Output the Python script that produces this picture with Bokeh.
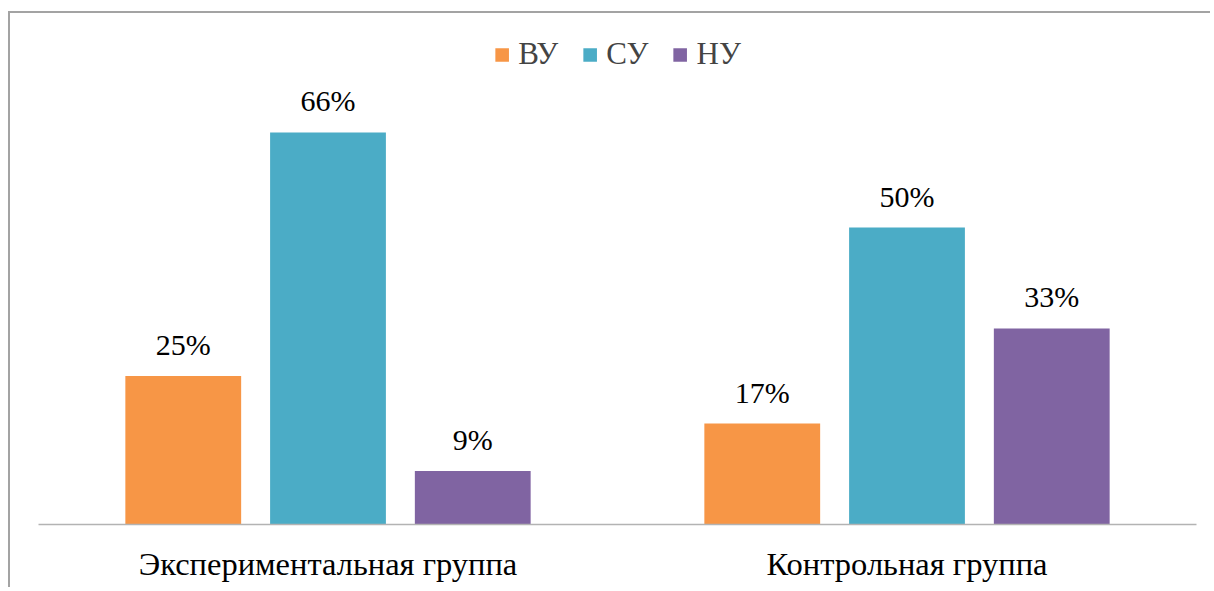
from bokeh.plotting import figure
from bokeh.models import ColumnDataSource, FactorRange, Range1d, Legend, LegendItem
from bokeh.core.properties import value
from bokeh.transform import dodge
from bokeh.embed import file_html
from bokeh.resources import INLINE

groups = ["Экспериментальная группа", "Контрольная группа"]
series = ["ВУ", "СУ", "НУ"]
vu = [25, 17]
su = [66, 50]
nu = [9, 33]
colors = ["#F79646", "#4BACC6", "#8064A2"]
offsets = [-0.25, 0.0, 0.25]

src = ColumnDataSource(dict(
    g=groups, vu=vu, su=su, nu=nu,
    vu_l=[f"{v}%" for v in vu],
    su_l=[f"{v}%" for v in su],
    nu_l=[f"{v}%" for v in nu],
))

FONT = "Liberation Serif"

p = figure(width=1202, height=576, output_backend="svg", toolbar_location=None,
           x_range=FactorRange(*groups, range_padding=0),
           y_range=Range1d(0, 84.85),
           min_border_left=28, min_border_right=16, min_border_top=7, min_border_bottom=65)
p.margin = (11, 0, 0, 8)
p.styles = {"border-top": "2px solid #a3a3a3", "border-left": "2px solid #a3a3a3"}
p.outline_line_color = None
p.grid.visible = False
p.yaxis.visible = False
p.xaxis.axis_line_color = "#b3b3b3"
p.xaxis.axis_line_width = 1.5
p.xaxis.major_tick_line_color = None
p.xaxis.minor_tick_line_color = None
p.xaxis.major_tick_out = 0
p.xaxis.major_tick_in = 0
p.xaxis.major_label_standoff = 21
p.xaxis.major_label_text_font = FONT
p.xaxis.major_label_text_font_size = "32.5px"
p.xaxis.major_label_text_color = "#000000"

items = []
for key, name, col, off in zip(["vu", "su", "nu"], series, colors, offsets):
    r = p.vbar(x=dodge("g", off, range=p.x_range), top=key, width=0.2, bottom=0,
               source=src, fill_color=col, line_color=None)
    p.text(x=dodge("g", off, range=p.x_range), y=key, text=key + "_l", source=src,
           text_align="center", text_baseline="alphabetic", y_offset=-31.5,
           text_font=value(FONT), text_font_size="30px", text_color="#000000")
    items.append(LegendItem(label=name, renderers=[r]))

legend = Legend(items=items, orientation="horizontal", location="top_center",
                glyph_width=17, glyph_height=17, label_standoff=8, spacing=23,
                padding=0, margin=16, label_height=30,
                label_text_font=FONT, label_text_font_size="31px",
                border_line_color=None, background_fill_alpha=0)
p.add_layout(legend)

open("out.html", "w").write(file_html(p, INLINE))
